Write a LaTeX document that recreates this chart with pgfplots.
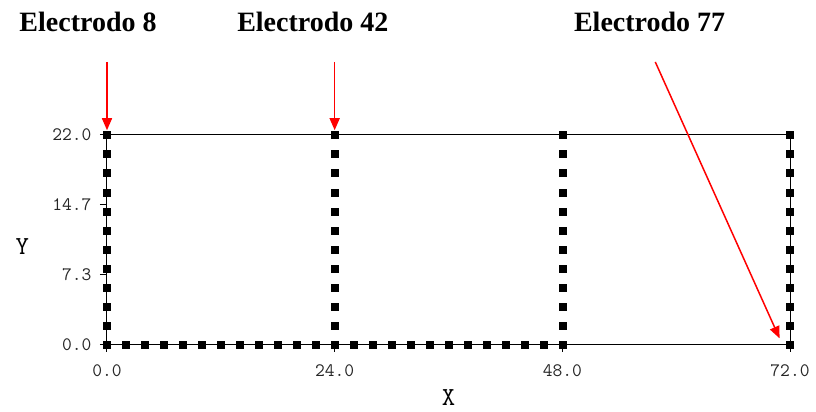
\documentclass[border=0pt]{standalone}
\usepackage{pgfplots}
\pgfplotsset{compat=1.18}
\usepackage{fontspec}
\setmainfont{Liberation Serif}
\usetikzlibrary{arrows.meta}
\pgfplotsset{elec/.style={black, only marks, mark=square*, mark size=3.5pt, mark options={solid, fill=black, draw=black}}}
\begin{document}
\begin{tikzpicture}
\begin{axis}[
  at={(0,0)}, anchor=south west,
  scale only axis, width=683pt, height=210pt,
  xmin=0, xmax=72, ymin=0, ymax=22,
  clip=false,
  axis line style={line width=1pt},
  tick align=outside, xtick pos=bottom, ytick pos=left,
  major tick length=7pt,
  tick style={line width=1pt, black},
  xtick={0,24,48,72}, xticklabels={0.0,24.0,48.0,72.0},
  ytick={0,7.3333,14.6667,22}, yticklabels={0.0,7.3,14.7,22.0},
  tick label style={font=\ttfamily\fontsize{19}{19}\selectfont, text=black!85},
  xticklabel style={yshift=-9pt},
  yticklabel style={xshift=-5pt},
  xlabel={X}, ylabel={Y},
  label style={font=\ttfamily\fontsize{26}{26}\selectfont},
  xlabel style={at={(axis description cs:0.5,-0.25)}, anchor=center},
  ylabel style={at={(axis description cs:-0.124,0.467)}, anchor=center, rotate=-90},
]
\addplot[elec] coordinates {(0,0)(2,0)(4,0)(6,0)(8,0)(10,0)(12,0)(14,0)(16,0)(18,0)(20,0)(22,0)(24,0)(26,0)(28,0)(30,0)(32,0)(34,0)(36,0)(38,0)(40,0)(42,0)(44,0)(46,0)(48,0)};
\addplot[elec] coordinates {(0,0)(0,2)(0,4)(0,6)(0,8)(0,10)(0,12)(0,14)(0,16)(0,18)(0,20)(0,22)};
\addplot[elec] coordinates {(24,0)(24,2)(24,4)(24,6)(24,8)(24,10)(24,12)(24,14)(24,16)(24,18)(24,20)(24,22)};
\addplot[elec] coordinates {(48,0)(48,2)(48,4)(48,6)(48,8)(48,10)(48,12)(48,14)(48,16)(48,18)(48,20)(48,22)};
\addplot[elec] coordinates {(72,0)(72,2)(72,4)(72,6)(72,8)(72,10)(72,12)(72,14)(72,16)(72,18)(72,20)(72,22)};
\node[anchor=base, font=\bfseries\fontsize{28}{28}\selectfont] at (axis cs:-2.0,32.8) {Electrodo 8};
\node[anchor=base, font=\bfseries\fontsize{28}{28}\selectfont] at (axis cs:21.7,32.8) {Electrodo 42};
\node[anchor=base, font=\bfseries\fontsize{28}{28}\selectfont] at (axis cs:57.2,32.8) {Electrodo 77};
\draw[red, line width=1.5pt, -{Triangle[width=10pt,length=12pt]}] (axis cs:0,29.65) -- (axis cs:0,22.5);
\draw[red, line width=1.5pt, -{Triangle[width=10pt,length=12pt]}] (axis cs:24,29.65) -- (axis cs:24,22.5);
\draw[red, line width=1.5pt, -{Triangle[width=10pt,length=12pt]}] (axis cs:57.8,29.65) -- (axis cs:70.9,0.7);
\end{axis}
\pgfresetboundingbox
\useasboundingbox (-107pt,-67pt) rectangle (709pt,345pt);
\end{tikzpicture}
\end{document}
